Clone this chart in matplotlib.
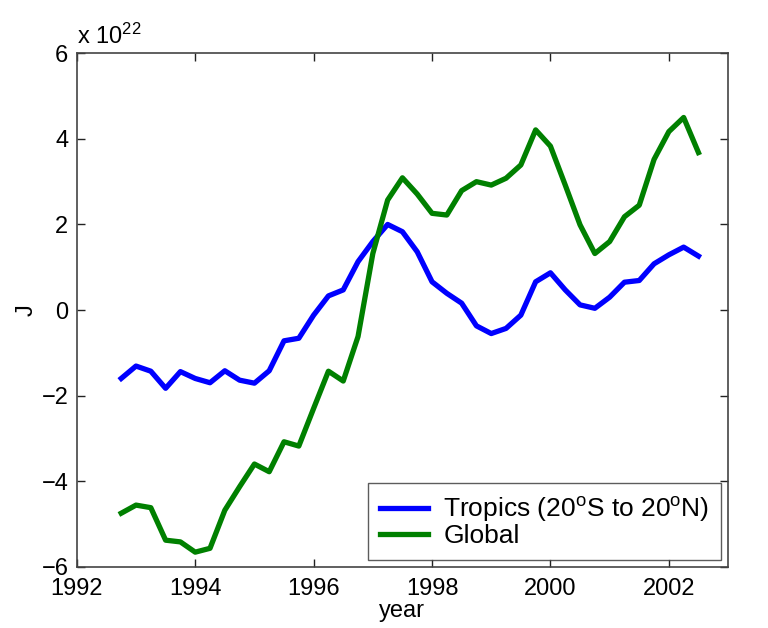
import matplotlib
matplotlib.use("Agg")
import matplotlib.pyplot as plt
import numpy as np

plt.rcParams['font.family'] = ['Liberation Sans', 'DejaVu Sans']
plt.rcParams['mathtext.default'] = 'regular'

years = [1992.75 + 0.25 * i for i in range(40)]
tropics = [-1.60, -1.31, -1.43, -1.83, -1.44, -1.60, -1.70, -1.42, -1.64, -1.71,
           -1.42, -0.72, -0.66, -0.12, 0.33, 0.47, 1.13, 1.60, 2.00, 1.83,
           1.36, 0.66, 0.39, 0.16, -0.37, -0.55, -0.43, -0.12, 0.66, 0.87,
           0.47, 0.12, 0.04, 0.30, 0.65, 0.69, 1.08, 1.29, 1.47, 1.26]
globl = [-4.75, -4.56, -4.62, -5.38, -5.42, -5.66, -5.57, -4.68, -4.13, -3.60,
         -3.78, -3.08, -3.18, -2.30, -1.43, -1.66, -0.62, 1.32, 2.57, 3.09,
         2.71, 2.26, 2.22, 2.79, 3.00, 2.92, 3.08, 3.39, 4.21, 3.83,
         2.92, 1.99, 1.32, 1.60, 2.18, 2.45, 3.52, 4.17, 4.50, 3.68]
xticks = [1992, 1994, 1996, 1998, 2000, 2002]
yticks = [-6, -4, -2, 0, 2, 4, 6]
labels = [r'Tropics (20$^{o}$S to 20$^{o}$N)', 'Global']

fig = plt.figure(figsize=(7.68, 6.28), dpi=100)
ax = fig.add_axes([0.1, 0.0976, 0.848, 0.8175])
ax.plot(years, tropics, color='#0000ff', lw=3.8, label=labels[0])
ax.plot(years, globl, color='#008000', lw=3.8, label=labels[1])
ax.set_xlim(1992, 2003)
ax.set_ylim(-6, 6)
ax.set_xticks(xticks)
ax.set_yticks(yticks)
ax.tick_params(direction='in', top=True, right=True, length=6, width=1,
               labelsize=17, colors='#222222', labelcolor='black', pad=6)
ax.tick_params(axis='x', pad=8)
for s in ax.spines.values():
    s.set_color('#444444')
    s.set_linewidth(1.2)
ax.set_xlabel('year', fontsize=17, labelpad=0)
ax.set_ylabel('J', fontsize=17, labelpad=3)
ax.text(0.0, 1.008, r'x 10$^{22}$', transform=ax.transAxes, fontsize=17,
        ha='left', va='bottom')
leg = ax.legend(loc='lower right', fontsize=19, frameon=True, fancybox=False,
                edgecolor='#333333', borderpad=0.45, handlelength=1.8,
                handletextpad=0.6, labelspacing=0.0, borderaxespad=0.25)
leg.get_frame().set_linewidth(1.0)
fig.savefig('out.png', dpi=100)
